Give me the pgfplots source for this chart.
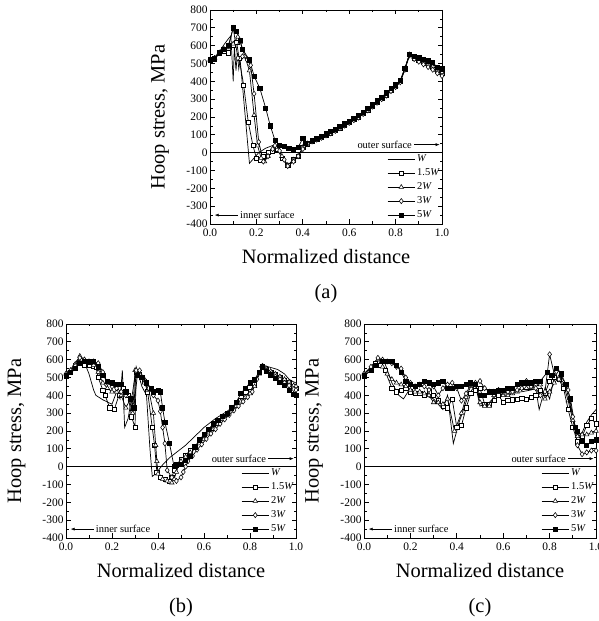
\documentclass[border=0pt]{standalone}
\usepackage{fontspec}
\setmainfont{Liberation Serif}
\usepackage{pgfplots}
\pgfplotsset{compat=1.18}
\usetikzlibrary{arrows.meta}

\pgfplotsset{
  panel/.style={
    scale only axis, height=214bp,
    xmin=0, xmax=1, ymin=-400, ymax=800,
    xtick={0,0.2,0.4,0.6,0.8,1},
    xticklabels={0.0,0.2,0.4,0.6,0.8,1.0},
    ytick={-400,-300,-200,-100,0,100,200,300,400,500,600,700,800},
    yticklabels={-400,-300,-200,-100,0,100,200,300,400,500,600,700,800},
    minor x tick num=1, minor y tick num=1,
    tick align=inside, major tick length=4.5bp, minor tick length=2.5bp,
    tick style={black, line width=0.7pt},
    tick label style={font=\fontsize{11.5}{13}\selectfont},
    xticklabel style={yshift=-1.5bp},
    yticklabel style={xshift=1bp},
    axis line style={line width=0.9pt},
    xlabel={Normalized distance}, ylabel={Hoop stress, MPa},
    label style={font=\fontsize{20.5}{24}\selectfont},
    xlabel style={at={(axis description cs:0.5,-0.15)}, anchor=center},
    ylabel style={at={(axis description cs:-0.215,0.5)}, anchor=center},
    legend style={draw=none, fill=none, at={(1.0,0.012)}, anchor=south east,
      font=\fontsize{10.5}{12}\selectfont, row sep=1.6pt, inner sep=0pt,
      /tikz/every even column/.append style={column sep=1.5pt}},
    legend cell align=left,
    legend image code/.code={\draw[mark repeat=2,mark phase=2,##1] plot coordinates {(0cm,0cm) (0.48cm,0cm) (0.96cm,0cm)};},
    clip=false,
  },
  sW/.style={black, line width=0.7pt, no marks},
  s15/.style={black, line width=0.7pt, mark=square*, mark size=2.1pt, mark options={solid, fill=white, line width=0.55pt}},
  s2/.style={black, line width=0.7pt, mark=triangle*, mark size=2.6pt, mark options={solid, fill=white, line width=0.55pt}},
  s3/.style={black, line width=0.7pt, mark=diamond*, mark size=2.6pt, mark options={solid, fill=white, line width=0.55pt}},
  s5/.style={black, line width=0.7pt, mark=square*, mark size=2.1pt, mark options={solid, fill=black}},
}
\newcommand{\annot}{%
  \addplot[black, line width=0.9pt, forget plot] coordinates {(0,0) (1,0)};
  \node[anchor=east, font=\fontsize{10.5}{12}\selectfont, inner sep=1pt] at (axis cs:0.875,45) {outer surface};
  \draw[-{Latex[length=4bp,width=3bp]}, line width=0.6pt] (axis cs:0.88,45) -- (axis cs:0.99,45);
  \draw[-{Latex[length=4bp,width=3bp]}, line width=0.6pt] (axis cs:0.12,-350) -- (axis cs:0.02,-350);
  \node[anchor=west, font=\fontsize{10.5}{12}\selectfont, inner sep=1pt] at (axis cs:0.125,-350) {inner surface};
}
\newcommand{\legs}{%
  \addlegendentry{\textit{W}}
  \addlegendentry{1.5\textit{W}}
  \addlegendentry{2\textit{W}}
  \addlegendentry{3\textit{W}}
  \addlegendentry{5\textit{W}}
}

\begin{document}
\begin{tikzpicture}[x=1bp,y=1bp]
\useasboundingbox (0,0) rectangle (599,621);

% ---------------- (a) ----------------
\begin{axis}[panel, width=232bp, at={(210bp,397bp)}, anchor=south west]
\addplot[sW] coordinates {(0,520) (0.02,535) (0.04,565) (0.06,605) (0.08,640) (0.09,655) (0.1,400) (0.105,600) (0.112,460) (0.118,560) (0.124,470) (0.13,520) (0.15,230) (0.17,-60) (0.19,-30) (0.21,0) (0.24,25) (0.27,40) (0.3,40) (0.33,25) (0.36,20) (0.4,40) (0.44,65) (0.5,100) (0.56,140) (0.62,185) (0.68,240) (0.74,305) (0.8,372) (0.82,400) (0.84,470) (0.86,555) (0.9,525) (0.95,495) (1.0,460)};
\addplot[s15] coordinates {(0,520) (0.02,525) (0.04,555) (0.06,570) (0.08,560) (0.1,600) (0.115,620) (0.125,530) (0.145,380) (0.165,170) (0.185,40) (0.2,-30) (0.215,-40) (0.23,-20) (0.25,0) (0.27,10) (0.29,20) (0.31,-30) (0.335,-70) (0.36,-40) (0.38,-20) (0.4,30) (0.42,50) (0.44,65) (0.46,75) (0.48,85) (0.5,100) (0.52,110) (0.54,125) (0.56,140) (0.58,155) (0.6,170) (0.62,185) (0.64,200) (0.66,220) (0.68,240) (0.7,262) (0.72,285) (0.74,305) (0.76,325) (0.78,350) (0.8,372) (0.82,400) (0.84,470) (0.86,550) (0.88,532) (0.9,520) (0.92,507) (0.94,495) (0.96,480) (0.98,462) (1.0,445)};
\addplot[s2] coordinates {(0,520) (0.02,530) (0.04,560) (0.06,580) (0.08,590) (0.1,610) (0.12,650) (0.13,620) (0.15,540) (0.17,460) (0.19,210) (0.205,40) (0.22,-30) (0.235,-50) (0.25,-20) (0.27,20) (0.29,30) (0.31,-20) (0.335,-70) (0.36,-40) (0.38,-20) (0.4,30) (0.42,50) (0.44,65) (0.46,75) (0.48,85) (0.5,100) (0.52,110) (0.54,125) (0.56,140) (0.58,155) (0.6,170) (0.62,185) (0.64,200) (0.66,220) (0.68,240) (0.7,262) (0.72,285) (0.74,305) (0.76,325) (0.78,350) (0.8,372) (0.82,400) (0.84,470) (0.86,550) (0.88,535) (0.9,522) (0.92,510) (0.94,497) (0.96,482) (0.98,465) (1.0,450)};
\addplot[s3] coordinates {(0,520) (0.02,530) (0.04,560) (0.06,580) (0.08,600) (0.1,700) (0.12,530) (0.14,540) (0.16,520) (0.175,490) (0.19,330) (0.21,60) (0.23,-50) (0.25,-20) (0.27,20) (0.28,40) (0.3,10) (0.32,-40) (0.335,-75) (0.36,-50) (0.38,-20) (0.4,20) (0.42,50) (0.44,63) (0.46,73) (0.48,83) (0.5,97) (0.52,108) (0.54,122) (0.56,137) (0.58,152) (0.6,167) (0.62,182) (0.64,197) (0.66,217) (0.68,237) (0.7,258) (0.72,280) (0.74,300) (0.76,320) (0.78,345) (0.8,368) (0.82,395) (0.84,465) (0.86,545) (0.88,525) (0.9,510) (0.92,495) (0.94,480) (0.96,465) (0.98,445) (1.0,430)};
\addplot[s5] coordinates {(0,520) (0.02,530) (0.04,560) (0.06,580) (0.08,600) (0.1,700) (0.115,680) (0.13,630) (0.14,580) (0.17,520) (0.19,430) (0.215,360) (0.24,250) (0.26,150) (0.28,70) (0.3,40) (0.32,35) (0.34,25) (0.36,20) (0.38,30) (0.4,80) (0.41,50) (0.44,68) (0.46,80) (0.48,92) (0.5,105) (0.52,118) (0.54,132) (0.56,147) (0.58,162) (0.6,177) (0.62,192) (0.64,207) (0.66,227) (0.68,247) (0.7,268) (0.72,290) (0.74,312) (0.76,335) (0.78,360) (0.8,380) (0.82,405) (0.84,475) (0.86,552) (0.88,540) (0.9,532) (0.92,525) (0.94,515) (0.96,505) (0.98,480) (1.0,470)};
\legs
\annot
\end{axis}
\node[font=\fontsize{20.5}{24}\selectfont] at (326,327) {(a)};

% ---------------- (b) ----------------
\begin{axis}[panel, width=230bp, at={(66bp,83bp)}, anchor=south west]
\addplot[sW] coordinates {(0,530) (0.02,545) (0.05,600) (0.08,585) (0.1,520) (0.12,430) (0.13,400) (0.16,375) (0.2,350) (0.22,420) (0.235,380) (0.245,540) (0.255,220) (0.27,270) (0.29,420) (0.305,560) (0.33,450) (0.35,400) (0.365,100) (0.375,-55) (0.39,-40) (0.42,10) (0.45,50) (0.48,80) (0.52,120) (0.56,170) (0.6,220) (0.65,270) (0.7,310) (0.75,360) (0.8,420) (0.83,490) (0.855,570) (0.88,560) (0.92,545) (0.95,520) (0.97,490) (0.99,475) (1.0,470)};
\addplot[s15] coordinates {(0,510) (0.02,530) (0.04,570) (0.06,580) (0.08,570) (0.1,570) (0.12,565) (0.13,560) (0.14,500) (0.16,430) (0.17,400) (0.19,330) (0.21,320) (0.23,400) (0.25,440) (0.27,400) (0.285,280) (0.3,220) (0.305,530) (0.32,520) (0.34,480) (0.355,420) (0.375,220) (0.385,120) (0.395,-30) (0.41,-60) (0.43,-70) (0.45,-80) (0.46,-60) (0.47,-20) (0.48,10) (0.5,40) (0.52,65) (0.54,90) (0.56,115) (0.58,140) (0.6,165) (0.62,195) (0.64,220) (0.66,245) (0.68,270) (0.7,295) (0.72,320) (0.74,345) (0.76,370) (0.78,395) (0.8,420) (0.82,460) (0.84,530) (0.855,565) (0.87,545) (0.89,530) (0.91,515) (0.93,500) (0.95,485) (0.97,470) (0.99,450) (1.0,440)};
\addplot[s2] coordinates {(0,520) (0.02,540) (0.04,575) (0.06,620) (0.08,600) (0.1,580) (0.12,570) (0.14,530) (0.16,470) (0.18,440) (0.2,420) (0.22,420) (0.24,400) (0.26,330) (0.28,380) (0.29,300) (0.3,540) (0.32,520) (0.34,470) (0.36,430) (0.38,300) (0.39,120) (0.395,30) (0.4,-40) (0.42,-70) (0.44,-80) (0.46,-90) (0.47,-70) (0.48,-30) (0.49,10) (0.5,30) (0.52,55) (0.54,80) (0.56,105) (0.58,130) (0.6,155) (0.62,185) (0.64,210) (0.66,240) (0.68,265) (0.7,290) (0.72,315) (0.74,340) (0.76,365) (0.78,390) (0.8,410) (0.82,450) (0.84,520) (0.855,565) (0.87,550) (0.89,535) (0.91,520) (0.93,505) (0.95,490) (0.97,475) (0.99,455) (1.0,450)};
\addplot[s3] coordinates {(0,520) (0.02,540) (0.04,565) (0.06,610) (0.08,600) (0.1,590) (0.12,590) (0.14,580) (0.16,530) (0.18,470) (0.2,450) (0.22,440) (0.24,420) (0.26,400) (0.28,380) (0.295,340) (0.305,540) (0.32,540) (0.34,490) (0.36,440) (0.38,400) (0.4,370) (0.41,310) (0.42,220) (0.43,130) (0.44,-20) (0.46,-60) (0.48,-80) (0.5,-60) (0.51,-30) (0.52,0) (0.53,30) (0.55,60) (0.57,95) (0.59,125) (0.61,155) (0.63,185) (0.65,210) (0.67,240) (0.69,265) (0.71,290) (0.73,315) (0.75,340) (0.77,365) (0.79,390) (0.81,420) (0.83,490) (0.85,560) (0.87,540) (0.89,520) (0.91,505) (0.93,490) (0.95,470) (0.97,455) (0.99,435) (1.0,430)};
\addplot[s5] coordinates {(0,510) (0.02,530) (0.04,550) (0.06,580) (0.08,590) (0.1,590) (0.12,590) (0.14,560) (0.16,510) (0.18,480) (0.2,470) (0.22,460) (0.24,460) (0.26,420) (0.28,380) (0.295,330) (0.31,510) (0.33,500) (0.35,470) (0.37,440) (0.38,420) (0.4,430) (0.41,420) (0.42,330) (0.43,250) (0.45,130) (0.47,0) (0.48,10) (0.5,15) (0.52,35) (0.54,60) (0.56,110) (0.58,150) (0.6,180) (0.62,210) (0.64,240) (0.66,260) (0.68,280) (0.7,300) (0.72,330) (0.74,360) (0.76,410) (0.78,440) (0.8,470) (0.82,490) (0.84,530) (0.855,560) (0.87,535) (0.89,515) (0.91,495) (0.93,475) (0.95,455) (0.97,430) (0.99,405) (1.0,400)};
\legs
\annot
\end{axis}
\node[font=\fontsize{20.5}{24}\selectfont] at (181,13) {(b)};

% ---------------- (c) ----------------
\begin{axis}[panel, width=232bp, at={(364bp,83bp)}, anchor=south west]
\addplot[sW] coordinates {(0,520) (0.03,560) (0.06,600) (0.09,580) (0.12,470) (0.15,400) (0.17,380) (0.19,420) (0.22,420) (0.26,400) (0.3,380) (0.34,320) (0.36,400) (0.385,130) (0.41,250) (0.45,400) (0.48,460) (0.5,340) (0.54,360) (0.57,400) (0.62,410) (0.68,420) (0.72,430) (0.74,440) (0.755,320) (0.78,440) (0.8,380) (0.82,500) (0.84,540) (0.87,450) (0.9,280) (0.92,180) (0.94,190) (0.96,250) (0.98,290) (1.0,320)};
\addplot[s15] coordinates {(0,510) (0.03,540) (0.05,580) (0.07,570) (0.09,540) (0.12,440) (0.14,420) (0.16,430) (0.18,440) (0.2,420) (0.22,410) (0.24,410) (0.26,400) (0.28,420) (0.3,400) (0.32,370) (0.34,340) (0.36,330) (0.38,380) (0.4,220) (0.42,230) (0.44,330) (0.46,410) (0.48,430) (0.5,440) (0.52,350) (0.54,350) (0.56,370) (0.58,400) (0.6,360) (0.62,370) (0.64,375) (0.66,380) (0.68,385) (0.7,380) (0.72,390) (0.74,400) (0.76,430) (0.78,410) (0.8,480) (0.82,500) (0.84,490) (0.86,440) (0.88,320) (0.9,220) (0.92,140) (0.94,170) (0.96,230) (0.98,270) (1.0,240)};
\addplot[s2] coordinates {(0,520) (0.03,550) (0.06,600) (0.08,560) (0.1,520) (0.12,490) (0.14,470) (0.16,460) (0.18,450) (0.2,430) (0.22,420) (0.24,420) (0.26,410) (0.28,400) (0.3,360) (0.32,360) (0.34,350) (0.36,380) (0.39,200) (0.42,300) (0.44,390) (0.46,450) (0.48,460) (0.5,360) (0.52,340) (0.54,340) (0.56,400) (0.58,420) (0.6,400) (0.62,400) (0.64,410) (0.66,420) (0.68,440) (0.7,440) (0.72,440) (0.74,460) (0.76,460) (0.78,380) (0.8,420) (0.82,470) (0.84,500) (0.86,460) (0.88,370) (0.9,260) (0.92,170) (0.94,180) (0.96,180) (0.98,190) (1.0,200)};
\addplot[s3] coordinates {(0,520) (0.03,560) (0.06,610) (0.08,600) (0.1,590) (0.12,580) (0.14,560) (0.16,550) (0.18,500) (0.2,470) (0.22,450) (0.24,460) (0.26,450) (0.28,430) (0.3,450) (0.32,400) (0.34,440) (0.36,460) (0.38,470) (0.4,440) (0.42,370) (0.44,410) (0.46,460) (0.48,470) (0.5,480) (0.52,440) (0.54,420) (0.56,420) (0.58,430) (0.6,420) (0.62,420) (0.64,420) (0.66,430) (0.68,440) (0.7,480) (0.72,450) (0.74,440) (0.76,400) (0.78,420) (0.8,630) (0.82,520) (0.84,490) (0.86,470) (0.88,430) (0.9,280) (0.92,120) (0.94,70) (0.96,80) (0.98,90) (1.0,90)};
\addplot[s5] coordinates {(0,510) (0.03,540) (0.05,570) (0.08,590) (0.1,590) (0.12,590) (0.14,570) (0.16,530) (0.18,480) (0.2,460) (0.22,450) (0.24,460) (0.26,480) (0.28,470) (0.3,460) (0.32,470) (0.34,480) (0.36,440) (0.38,440) (0.4,450) (0.42,450) (0.44,460) (0.46,470) (0.48,460) (0.5,400) (0.52,400) (0.54,420) (0.56,420) (0.58,430) (0.6,430) (0.62,440) (0.64,440) (0.66,460) (0.68,470) (0.7,470) (0.72,470) (0.74,480) (0.76,480) (0.79,530) (0.81,510) (0.83,550) (0.85,520) (0.87,460) (0.89,380) (0.91,220) (0.92,200) (0.94,140) (0.96,120) (0.98,140) (1.0,150)};
\legs
\annot
\end{axis}
\node[font=\fontsize{20.5}{24}\selectfont] at (480,13) {(c)};
\end{tikzpicture}
\end{document}
